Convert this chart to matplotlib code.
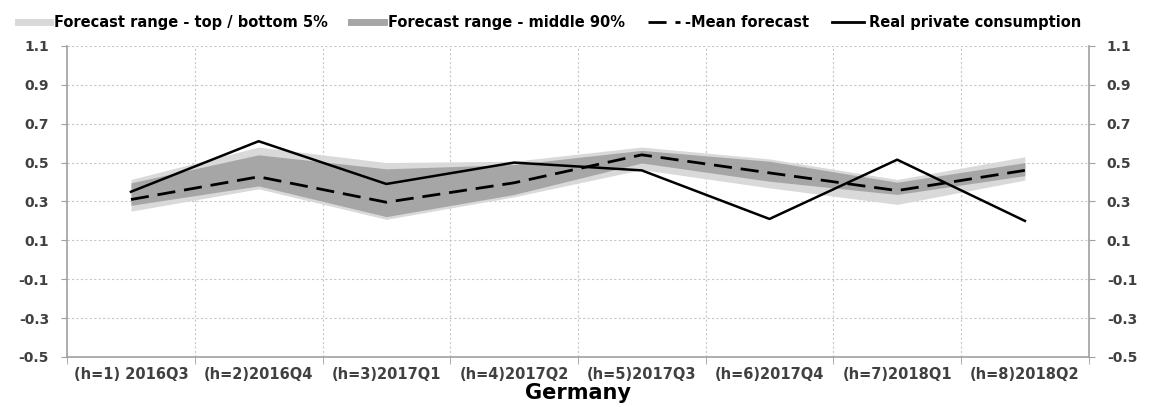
import numpy as np
import matplotlib.pyplot as plt
from matplotlib.lines import Line2D

# dane
categories = ['(h=1) 2016Q3', '(h=2)2016Q4', '(h=3)2017Q1', '(h=4)2017Q2',
              '(h=5)2017Q3', '(h=6)2017Q4', '(h=7)2018Q1', '(h=8)2018Q2']
real_consumption = [0.35, 0.61, 0.39, 0.50, 0.46, 0.21, 0.515, 0.20]
mean_forecast = [0.31, 0.427, 0.296, 0.396, 0.54, 0.447, 0.356, 0.46]
outer_top = [0.413, 0.58, 0.50, 0.507, 0.58, 0.519, 0.413, 0.53]
outer_bottom = [0.25, 0.365, 0.208, 0.324, 0.464, 0.37, 0.285, 0.41]
inner_top = [0.396, 0.54, 0.468, 0.49, 0.563, 0.507, 0.399, 0.50]
inner_bottom = [0.28, 0.38, 0.222, 0.336, 0.498, 0.404, 0.336, 0.433]
y_ticks = [-0.5, -0.3, -0.1, 0.1, 0.3, 0.5, 0.7, 0.9, 1.1]

plt.rcParams['font.family'] = ['DejaVu Sans']

x = np.arange(1, len(categories) + 1)

fig = plt.figure(figsize=(11.57, 4.07), dpi=100)
ax = fig.add_axes([0.058, 0.123, 0.883, 0.764])

light_grey = '#d9d9d9'
dark_grey = '#a6a6a6'
tick_col = '#404040'
axis_col = '#a0a0a0'

ax.fill_between(x, outer_bottom, outer_top, color=light_grey, lw=0, zorder=2)
ax.fill_between(x, inner_bottom, inner_top, color=dark_grey, lw=0, zorder=3)
ax.plot(x, mean_forecast, color='black', lw=2, dashes=(6.5, 3.2), zorder=4)
ax.plot(x, real_consumption, color='black', lw=1.8, zorder=5)

ax.set_xlim(0.5, 8.5)
ax.set_ylim(-0.5, 1.1)
ax.set_yticks(y_ticks)
ax.set_yticklabels([f'{v:.1f}' for v in y_ticks])

# siatka: poziome linie przy tickach, pionowe na granicach kategorii
for v in y_ticks:
    ax.axhline(v, color='#c8c8c8', lw=0.8, ls=(0, (2, 2)), zorder=1)
for b in np.arange(1.5, 8.5, 1):
    ax.axvline(b, color='#c8c8c8', lw=0.8, ls=(0, (2, 2)), zorder=1)

ax.set_xticks(x)
ax.set_xticklabels(categories)
ax.set_xticks(np.arange(0.5, 9, 1), minor=True)
ax.tick_params(axis='x', which='major', length=0, pad=7,
               labelsize=10.5, labelcolor=tick_col)
ax.tick_params(axis='x', which='minor', length=5, color=axis_col)
ax.tick_params(axis='y', which='major', length=4, color=axis_col,
               labelsize=10, labelcolor=tick_col, pad=9,
               right=True, labelright=True)
for lab in ax.get_xticklabels() + ax.get_yticklabels():
    lab.set_fontweight('bold')

for side in ['left', 'right', 'bottom']:
    ax.spines[side].set_color(axis_col)
    ax.spines[side].set_linewidth(1.2)
ax.spines['top'].set_visible(False)

ax.set_xlabel('Germany', fontsize=15, fontweight='bold', labelpad=1)

handles = [
    Line2D([], [], color=light_grey, lw=5),
    Line2D([], [], color=dark_grey, lw=5),
    Line2D([], [], color='black', lw=2, dashes=(6.5, 3.2)),
    Line2D([], [], color='black', lw=2),
]
labels = ['Forecast range - top / bottom 5%', 'Forecast range - middle 90%',
          '-Mean forecast', 'Real private consumption']
fig.legend(handles, labels, loc='upper left', bbox_to_anchor=(0.004, 0.995),
           ncol=4, frameon=False, handlelength=2.2, handletextpad=0.3,
           columnspacing=1.6, prop={'weight': 'bold', 'size': 10.5})

fig.savefig('out.png', dpi=100)
